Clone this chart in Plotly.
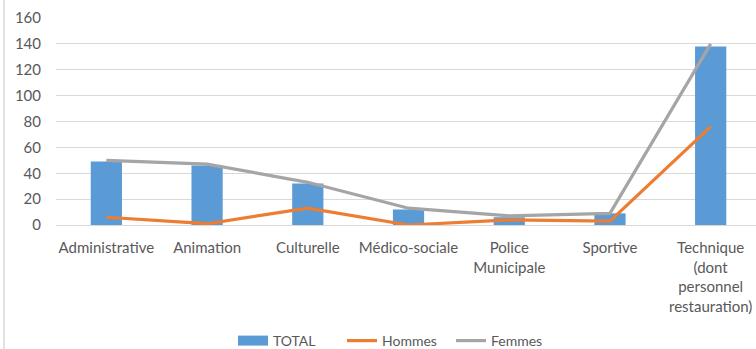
import plotly.graph_objects as go

categories = ["Administrative", "Animation", "Culturelle", "Médico-sociale",
              "Police<br>Municipale", "Sportive",
              "Technique<br>(dont<br>personnel<br>restauration)"]
total = [49, 46, 32, 12, 6, 9, 138]
hommes = [6, 1, 13, 0, 4, 3, 76]
femmes = [50, 47, 33, 13, 7, 9, 140]
y_ticks = [0, 20, 40, 60, 80, 100, 120, 140, 160]

W, H = 756, 349
left, right_px, top, bottom_px = 56, 756, 18, 225
BLUE, ORANGE, GREY = "#5B9BD5", "#ED7D31", "#A5A5A5"

xs = list(range(len(categories)))
fig = go.Figure()
fig.add_trace(go.Bar(x=xs, y=total, name="TOTAL", showlegend=False,
                     marker=dict(color=BLUE, line=dict(width=0)), width=0.31))
# legend-only swatch for bars (wide rectangle like the reference)
fig.add_trace(go.Scatter(x=[None], y=[None], name="TOTAL", mode="lines",
                         line=dict(color=BLUE, width=10)))
fig.add_trace(go.Scatter(x=xs, y=hommes, name="Hommes",
                         mode="lines", line=dict(color=ORANGE, width=3.2)))
fig.add_trace(go.Scatter(x=xs, y=femmes, name="Femmes",
                         mode="lines", line=dict(color=GREY, width=3.2)))

font_family = "Lato, 'Open Sans', sans-serif"
fig.update_layout(
    width=W, height=H,
    margin=dict(l=left, r=W - right_px, t=top, b=H - bottom_px, pad=0, autoexpand=False),
    paper_bgcolor="white", plot_bgcolor="white",
    font=dict(family=font_family, size=15, color="#595959"),
    showlegend=True,
    legend=dict(orientation="h", x=(233 - left) / (right_px - left), xanchor="left",
                y=-(341 - bottom_px) / (bottom_px - top), yanchor="middle",
                font=dict(size=14, color="#595959"),
                entrywidth=64, entrywidthmode="pixels",
                traceorder="normal"),
    bargap=0.69,
)
fig.update_xaxes(
    tickmode="array", tickvals=xs, ticktext=categories,
    range=[-0.5, 6.45], showgrid=False, zeroline=False, automargin=False,
    showline=False, ticks="", tickangle=0, ticklabelstandoff=12,
)
fig.update_yaxes(
    range=[0, 160], tickvals=y_ticks, showgrid=True, gridcolor="#D9D9D9", gridwidth=1,
    zeroline=True, zerolinecolor="#D9D9D9", zerolinewidth=1, automargin=False,
    showline=False, ticks="", ticklabelstandoff=14,
)
# chart border on left
bx = (4 - left) / (right_px - left)
fig.add_shape(type="line", xref="paper", yref="paper",
              x0=bx, x1=bx,
              y0=-(H - bottom_px) / (bottom_px - top), y1=bottom_px / (bottom_px - top),
              line=dict(color="#D9D9D9", width=1.5), layer="below")

fig.write_html("out.html")
